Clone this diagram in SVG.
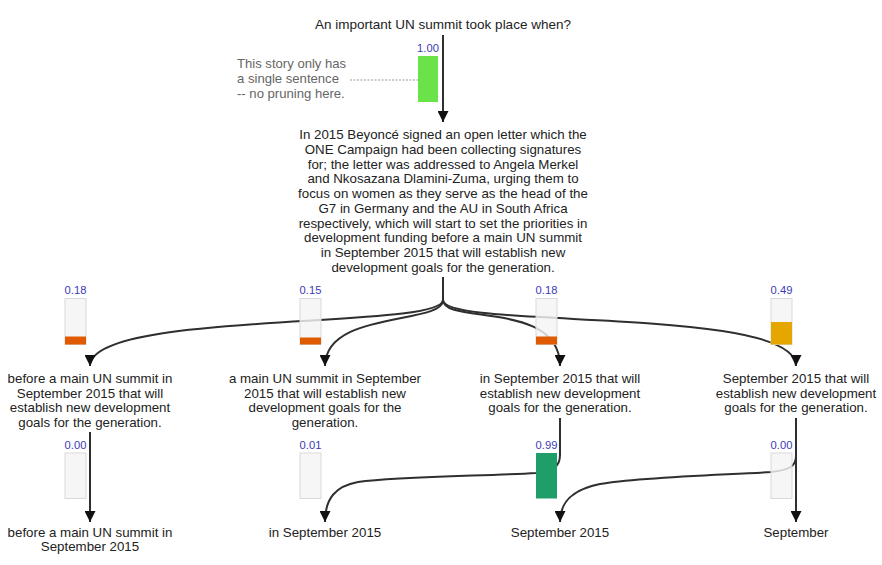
<svg xmlns="http://www.w3.org/2000/svg" width="882" height="565" viewBox="0 0 882 565">
<style>
text{font-family:"Liberation Sans",Arial,sans-serif;fill:#222;}
.t{font-size:13.3px;text-anchor:middle;}
.title{font-size:13.5px;text-anchor:middle;}
.note{font-size:13.1px;fill:#666;}
.lbl{font-size:11.2px;fill:#3b3bb8;text-anchor:middle;}
.edge{fill:none;stroke:#2f2f2f;stroke-width:2;}
.bg{fill:#f4f4f4;fill-opacity:0.82;stroke:#d9d9d9;stroke-width:1;}
</style>
<defs>
<marker id="ah" viewBox="0 0 10 10" refX="10" refY="5" markerWidth="5.5" markerHeight="5.5" orient="auto" markerUnits="strokeWidth">
<path d="M0,0 L10,5 L0,10 z" fill="#111"/>
</marker>
</defs>
<rect width="882" height="565" fill="#fff"/>
<g id="connectors">
<path class="edge" d="M443,35 V122" marker-end="url(#ah)"/>
<path class="edge" d="M443,277 V300 C443,330 90,310 90,366" marker-end="url(#ah)"/>
<path class="edge" d="M443,300 C443,325 325,310 325,366" marker-end="url(#ah)"/>
<path class="edge" d="M443,300 C443,325 560,300 560,366" marker-end="url(#ah)"/>
<path class="edge" d="M443,300 C443,330 796,305 796,366" marker-end="url(#ah)"/>
<path class="edge" d="M90,432 V522" marker-end="url(#ah)"/>
<path class="edge" d="M560,418 V455 C560,467 553,471 536,473 C490,476 400,476 358,482 C336,486 325,498 325,522" marker-end="url(#ah)"/>
<path class="edge" d="M796,418 V456 C796,466 790,470 771,472 C720,475 640,477 600,484 C575,489 560,500 560,522" marker-end="url(#ah)"/>
<path class="edge" d="M796,418 V522" marker-end="url(#ah)"/>
<path d="M350,80 H418" fill="none" stroke="#999" stroke-width="1" stroke-dasharray="2,1.5"/>
</g>
<g id="question">
<text class="title" x="443" y="29">An important UN summit took place when?</text>
</g>
<g id="note">
<text class="note" x="237" y="68">This story only has</text>
<text class="note" x="237" y="83">a single sentence</text>
<text class="note" x="237" y="97.5">-- no pruning here.</text>
</g>
<g id="bar-root">
<text class="lbl" x="428" y="51.5">1.00</text>
<rect x="418" y="56" width="20" height="46" fill="#6ae24a"/>
</g>
<g id="story">
<text class="t" x="443" y="139">In 2015 Beyoncé signed an open letter which the</text>
<text class="t" x="443" y="153.75">ONE Campaign had been collecting signatures</text>
<text class="t" x="443" y="168.5">for; the letter was addressed to Angela Merkel</text>
<text class="t" x="443" y="183.25">and Nkosazana Dlamini-Zuma, urging them to</text>
<text class="t" x="443" y="198">focus on women as they serve as the head of the</text>
<text class="t" x="443" y="212.75">G7 in Germany and the AU in South Africa</text>
<text class="t" x="443" y="227.5">respectively, which will start to set the priorities in</text>
<text class="t" x="443" y="242.25">development funding before a main UN summit</text>
<text class="t" x="443" y="257">in September 2015 that will establish new</text>
<text class="t" x="443" y="271.75">development goals for the generation.</text>
</g>
<g id="bar-a">
<text class="lbl" x="75.5" y="293.5">0.18</text>
<rect class="bg" x="65" y="298.5" width="21" height="46"/>
<rect x="65" y="336.5" width="21" height="8" fill="#e05a00"/>
</g>
<g id="bar-b">
<text class="lbl" x="310.5" y="293.5">0.15</text>
<rect class="bg" x="300" y="298.5" width="21" height="46"/>
<rect x="300" y="337.5" width="21" height="7" fill="#e05a00"/>
</g>
<g id="bar-c">
<text class="lbl" x="546.5" y="293.5">0.18</text>
<rect class="bg" x="536" y="298.5" width="21" height="46"/>
<rect x="536" y="336.5" width="21" height="8" fill="#e05a00"/>
</g>
<g id="bar-d">
<text class="lbl" x="781.5" y="293.5">0.49</text>
<rect class="bg" x="771" y="298.5" width="21" height="46"/>
<rect x="771" y="322" width="21" height="22.5" fill="#e6a600"/>
</g>
<g id="node-a">
<text class="t" x="90" y="383">before a main UN summit in</text>
<text class="t" x="90" y="397.7">September 2015 that will</text>
<text class="t" x="90" y="412.4">establish new development</text>
<text class="t" x="90" y="427.1">goals for the generation.</text>
</g>
<g id="node-b">
<text class="t" x="325" y="383">a main UN summit in September</text>
<text class="t" x="325" y="397.7">2015 that will establish new</text>
<text class="t" x="325" y="412.4">development goals for the</text>
<text class="t" x="325" y="427.1">generation.</text>
</g>
<g id="node-c">
<text class="t" x="560" y="383">in September 2015 that will</text>
<text class="t" x="560" y="397.7">establish new development</text>
<text class="t" x="560" y="412.4">goals for the generation.</text>
</g>
<g id="node-d">
<text class="t" x="796" y="383">September 2015 that will</text>
<text class="t" x="796" y="397.7">establish new development</text>
<text class="t" x="796" y="412.4">goals for the generation.</text>
</g>
<g id="bar-a2">
<text class="lbl" x="75.5" y="448.5">0.00</text>
<rect class="bg" x="65" y="453" width="21" height="45.5"/>
</g>
<g id="bar-b2">
<text class="lbl" x="310.5" y="448.5">0.01</text>
<rect class="bg" x="300" y="453" width="21" height="45.5"/>
</g>
<g id="bar-c2">
<text class="lbl" x="546.5" y="448.5">0.99</text>
<rect x="536" y="453" width="21" height="45.5" fill="#1f9e6a"/>
</g>
<g id="bar-d2">
<text class="lbl" x="781.5" y="448.5">0.00</text>
<rect class="bg" x="771" y="453" width="21" height="45.5"/>
</g>
<g id="leaf-a">
<text class="t" x="90" y="536.5">before a main UN summit in</text>
<text class="t" x="90" y="551.2">September 2015</text>
</g>
<g id="leaf-b">
<text class="t" x="325" y="536.5">in September 2015</text>
</g>
<g id="leaf-c">
<text class="t" x="560" y="536.5">September 2015</text>
</g>
<g id="leaf-d">
<text class="t" x="796" y="536.5">September</text>
</g>
</svg>
